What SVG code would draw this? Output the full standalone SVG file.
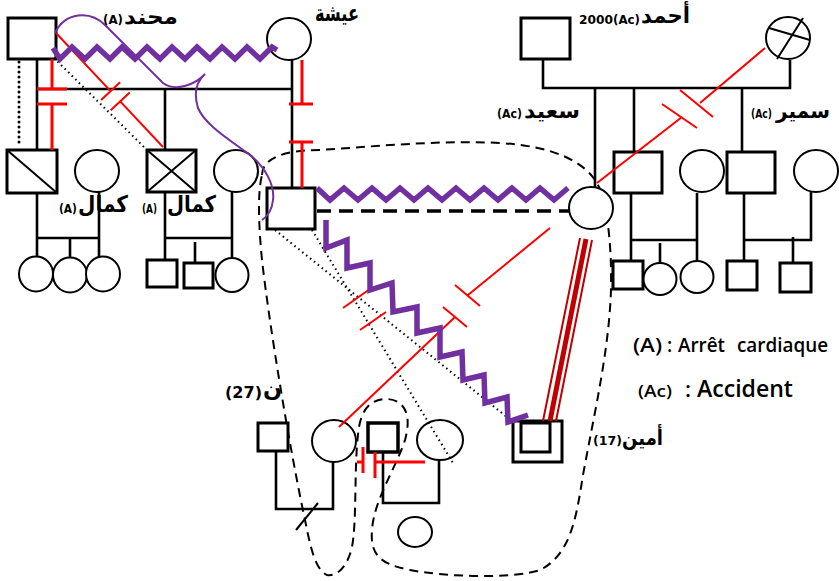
<svg xmlns="http://www.w3.org/2000/svg" width="839" height="581" viewBox="0 0 839 581">
<style>
.sq{fill:#fff;stroke:#000;stroke-width:3}
.ci{fill:#fff;stroke:#000;stroke-width:2}
.ln{fill:none;stroke:#000;stroke-width:2.6}
.rd{fill:none;stroke:#f00;stroke-width:3}
.rt{fill:none;stroke:#f00;stroke-width:2}
.dr{fill:none;stroke:#c00000}
.zz{fill:none;stroke:#7030A0;stroke-width:5.5;stroke-linejoin:miter}
.pc{fill:none;stroke:#7030A0;stroke-width:2}
.dot{fill:none;stroke:#000;stroke-width:2;stroke-dasharray:1.5 3.5}
.dotb{fill:none;stroke:#000;stroke-width:3;stroke-linecap:round;stroke-dasharray:0 5}
.dsh{fill:none;stroke:#000;stroke-width:2;stroke-dasharray:9 6}
.ar{font-family:"DejaVu Sans",sans-serif;font-weight:bold;fill:#000}
.lt{font-family:"Open Sans","DejaVu Sans",sans-serif;font-weight:600;fill:#000}
</style>
<rect width="839" height="581" fill="#fff"/>
<g id="enclosure">
<path class="dsh" d="M262,175 C262,158 285,150 320,150 C380,146 440,140 500,143 C550,146 585,160 598,185 C606,200 612,240 611,290 C609,350 595,410 583,475 C576,520 570,555 540,570 C510,580 440,576 410,570 C380,564 370,555 372,530 C374,500 395,470 405,440 C412,415 405,400 387,399 C370,399 360,410 358,435 C354,470 357,520 352,547 C348,565 338,577 327,575 C315,570 310,545 305,520 C290,450 270,330 262,260 C258,220 258,190 262,175 Z"/>
</g>
<g id="nodes">
<g id="n-mhend"><rect class="sq" x="8" y="18" width="48" height="41"/></g>
<g id="n-aicha"><ellipse class="ci" cx="289" cy="39" rx="22" ry="21"/></g>
<g id="n-ahmed"><rect class="sq" x="521" y="18" width="49" height="41"/></g>
<g id="n-ahmed-wife"><ellipse class="ci" cx="788" cy="38" rx="22" ry="21"/><path class="ln" style="stroke-width:2" d="M769,28 L810,40 M777,59 L803,18"/></g>
<g id="n-kamal1"><rect class="sq" x="7" y="150" width="50" height="43"/><path class="ln" style="stroke-width:2" d="M7,150 L57,193"/></g>
<g id="n-kamal1-wife"><ellipse class="ci" cx="97" cy="171" rx="22" ry="21"/></g>
<g id="n-kamal2"><rect class="sq" x="147" y="150" width="49" height="42"/><path class="ln" style="stroke-width:2" d="M147,150 L196,192 M196,150 L147,192"/></g>
<g id="n-kamal2-wife"><ellipse class="ci" cx="236" cy="171" rx="22" ry="21"/></g>
<g id="n-k1c1"><ellipse class="ci" cx="36" cy="274" rx="17" ry="17.5"/></g>
<g id="n-k1c2"><ellipse class="ci" cx="70" cy="275" rx="17" ry="17.5"/></g>
<g id="n-k1c3"><ellipse class="ci" cx="103" cy="274" rx="17" ry="17.5"/></g>
<g id="n-k2c1"><rect class="sq" x="147" y="260" width="30" height="27"/></g>
<g id="n-k2c2"><rect class="sq" x="184" y="263" width="29" height="25"/></g>
<g id="n-k2c3"><ellipse class="ci" cx="232" cy="275" rx="16.5" ry="17"/></g>
<g id="n-center"><rect class="sq" x="267" y="188" width="48" height="41"/></g>
<g id="n-center-wife"><ellipse class="ci" cx="591" cy="208" rx="22" ry="21"/></g>
<g id="n-said"><rect class="sq" x="614" y="152" width="48" height="41"/></g>
<g id="n-said-wife"><ellipse class="ci" cx="702" cy="171" rx="22" ry="21"/></g>
<g id="n-samir"><rect class="sq" x="727" y="152" width="48" height="41"/></g>
<g id="n-samir-wife"><ellipse class="ci" cx="816" cy="171" rx="22" ry="21"/></g>
<g id="n-sc1"><rect class="sq" x="613" y="261" width="30" height="28"/></g>
<g id="n-sc2"><ellipse class="ci" cx="660" cy="279" rx="16.5" ry="16"/></g>
<g id="n-sc3"><ellipse class="ci" cx="697" cy="277" rx="16.5" ry="16"/></g>
<g id="n-mc1"><rect class="sq" x="727" y="261" width="30" height="29"/></g>
<g id="n-mc2"><rect class="sq" x="780" y="263" width="31" height="29"/></g>
<g id="n-b1"><rect class="sq" x="258" y="423" width="30" height="28"/></g>
<g id="n-b2"><ellipse class="ci" cx="334" cy="441" rx="22" ry="21"/></g>
<g id="n-b3"><rect class="sq" x="368" y="423" width="30" height="29" style="stroke-width:3.5"/></g>
<g id="n-b4"><ellipse class="ci" cx="440" cy="440" rx="23" ry="20"/></g>
<g id="n-b5"><ellipse class="ci" cx="415" cy="532" rx="17" ry="15"/></g>
<g id="n-amin"><rect class="sq" x="513" y="421" width="49" height="41"/><rect class="sq" x="521" y="423" width="29" height="29"/></g>
</g>
<g id="connectors">
<path class="ln" d="M37,59 V150 M37,89 H292 M165,89 V150 M292,60 V188"/>
<path class="ln" d="M37,193 V257 M37,238 H99 M99,192 V258 M70,238 V258"/>
<path class="ln" d="M165,192 V260 M165,238 H232 M232,192 V258 M195,242 V263"/>
<path class="ln" d="M543,59 V88 H790 V60 M595,88 V187 M634,88 V152 M742,88 V152"/>
<path class="ln" d="M631,193 V261 M631,240 H697 M697,193 V261 M660,243 V263"/>
<path class="ln" d="M744,193 V261 M744,240 H811 V192 M793,237 V263"/>
<path class="ln" d="M276,451 V509 H333 V462 M383,452 V503 H439 V460"/>
<path class="ln" style="stroke-width:2" d="M296,530 L318,503"/>
<path fill="none" stroke="#000" stroke-width="3.5" stroke-dasharray="14 8" d="M317,211 H569"/>
<path class="dotb" d="M19,62 V147"/>
<path class="dot" d="M54,58 L147,150 M275,230 L513,422 M312,230 L453,463"/>
<path class="rd" d="M52,59 V89 M37,89 H67 M37,104 H67 M52,104 V150"/>
<path class="rd" d="M302,60 V104 M289,104 H313 M289,142 H313 M302,142 V188"/>
<path class="rt" d="M56,33 L110.6,91.1 M101.1,100 L120.1,82.2 M110.7,110.3 L129.7,92.5 M120.2,101.4 L163,147"/>
<path class="rt" d="M765,48 L700,103 M680,90 L713,117 M662,104 L697,128 M682,117 L597,183"/>
<path class="rt" d="M550,228 L468,295 M455,285 L480,306 M443,307 L467,327 M455,317 L339,427"/>
<path class="rt" d="M343,308 L370,289 M360,330 L386,312"/>
<path class="rd" d="M374,462 H425 M375,452 V478 M363,447 V473 M357,462 H363"/>
<path class="dr" stroke-width="2" d="M580,238 L543,421 M592,240 L556,421"/>
<path class="dr" stroke-width="5" d="M586,239 L550,421"/>
<path class="zz" d="M53,48 L60,59 L72,47 L85,59 L97,47 L110,59 L122,47 L135,59 L147,47 L160,59 L172,47 L185,59 L197,47 L210,59 L222,47 L235,59 L247,47 L260,59 L272,47 L277,50"/>
<path class="zz" d="M317,188 L330,200 L344,188 L358,200 L372,188 L386,200 L400,188 L414,200 L428,188 L442,200 L456,188 L470,200 L484,188 L498,200 L512,188 L526,200 L540,188 L554,200 L568,188"/>
<path class="zz" d="M326,220 L326,248 L347,240 L347,268 L370,263 L370,290 L392,283 L393,312 L417,307 L417,333 L440,328 L440,357 L462,352 L463,380 L484,375 L485,403 L507,397 L508,422 L528,415"/>
<path class="pc" d="M55,33 C65,12 90,10 105,25 L163,83 C175,92 195,85 205,74 C195,83 194,95 198,108 C205,125 230,140 250,155 C265,167 275,185 273,200 C272,210 268,216 262,220"/>
</g>
<g id="labels">
<text class="ar" x="103" y="24" font-size="13" textLength="20" lengthAdjust="spacingAndGlyphs">(A)</text>
<text class="ar" x="124" y="24" font-size="21" textLength="54" lengthAdjust="spacingAndGlyphs">محند</text>
<text class="ar" x="315" y="21" font-size="23" textLength="44" lengthAdjust="spacingAndGlyphs">عيشة</text>
<text class="ar" x="579" y="24" font-size="13" textLength="34" lengthAdjust="spacingAndGlyphs">2000</text>
<text class="ar" x="613" y="24" font-size="13" textLength="27" lengthAdjust="spacingAndGlyphs" font-weight="normal">(Ac)</text>
<text class="ar" x="641" y="23" font-size="22" textLength="49" lengthAdjust="spacingAndGlyphs">أحمد</text>
<text class="ar" x="497" y="118" font-size="12" textLength="25" lengthAdjust="spacingAndGlyphs" font-weight="normal">(Ac)</text>
<text class="ar" x="524" y="118" font-size="21" textLength="56" lengthAdjust="spacingAndGlyphs">سعيد</text>
<text class="ar" x="751" y="118" font-size="12" textLength="21" lengthAdjust="spacingAndGlyphs" font-weight="normal">(Ac)</text>
<text class="ar" x="776" y="118" font-size="21" textLength="54" lengthAdjust="spacingAndGlyphs">سمير</text>
<text class="ar" x="59" y="213" font-size="12" textLength="18" lengthAdjust="spacingAndGlyphs" font-weight="normal">(A)</text>
<text class="ar" x="78" y="212" font-size="23" textLength="50" lengthAdjust="spacingAndGlyphs" font-weight="normal">كمال</text>
<text class="ar" x="142" y="213" font-size="12" textLength="15" lengthAdjust="spacingAndGlyphs" font-weight="normal">(A)</text>
<text class="ar" x="167" y="212" font-size="23" textLength="49" lengthAdjust="spacingAndGlyphs" font-weight="normal">كمال</text>
<text class="ar" x="225" y="398" font-size="16" textLength="37" lengthAdjust="spacingAndGlyphs" font-weight="normal">(27)</text>
<text class="ar" x="263" y="396" font-size="22" textLength="19" lengthAdjust="spacingAndGlyphs" font-weight="normal">ن</text>
<text class="ar" x="593" y="445" font-size="13" textLength="29" lengthAdjust="spacingAndGlyphs" font-weight="normal">(17)</text>
<text class="ar" x="622" y="445" font-size="21" textLength="41" lengthAdjust="spacingAndGlyphs">أمين</text>
<text class="lt" x="633" y="352" font-size="19" textLength="29" lengthAdjust="spacingAndGlyphs">(A)</text>
<text class="lt" x="667" y="352" font-size="19">:</text>
<text class="lt" x="678" y="352" font-size="19" textLength="47" lengthAdjust="spacingAndGlyphs">Arrêt</text>
<text class="lt" x="737" y="352" font-size="19" textLength="91" lengthAdjust="spacingAndGlyphs">cardiaque</text>
<text class="lt" x="638" y="397" font-size="17" textLength="34" lengthAdjust="spacingAndGlyphs">(Ac)</text>
<text class="lt" x="685" y="397" font-size="22">:</text>
<text class="lt" x="697" y="397" font-size="23" textLength="96" lengthAdjust="spacingAndGlyphs">Accident</text>
</g>
</svg>
